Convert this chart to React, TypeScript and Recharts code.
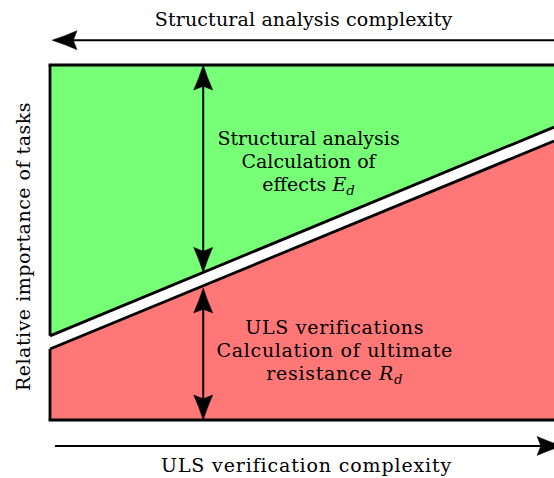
import { ComposedChart, Area, Line, XAxis, YAxis, ReferenceLine, ReferenceDot, Label } from 'recharts';

// x: verification complexity (0-100), y: relative importance of tasks (0-100)
const complexity = [0, 100];
const analysisEdge = [23.7, 82.5]; // lower edge of the green (analysis) band
const ulsEdge = [20, 78.6]; // upper edge of the red (ULS) band

const topTitle = 'Structural analysis complexity';
const bottomTitle = 'ULS verification complexity';
const sideTitle = 'Relative importance of tasks';
const analysisLines = ['Structural analysis', 'Calculation of', 'effects'];
const analysisSymbol = ['E', 'd'];
const ulsLines = ['ULS verifications', 'Calculation of ultimate', 'resistance'];
const ulsSymbol = ['R', 'd'];

const GREEN = '#77ff77';
const RED = '#ff7777';
const FONT = 'DejaVu Serif';
const FS = 19;

const data = complexity.map((x, i) => ({
    x,
    analysis: [analysisEdge[i], 100],
    uls: [0, ulsEdge[i]],
    analysisEdge: analysisEdge[i],
    ulsEdge: ulsEdge[i],
}));

// value of a band edge at a given x (straight line between the two ends)
const edgeAt = (edge: number[], x: number) =>
    edge[0] + ((edge[1] - edge[0]) * (x - complexity[0])) / (complexity[1] - complexity[0]);

const ARROW_X = 30.4;

// latex-like arrow head, tip at (tx,ty), pointing along (dx,dy)
const head = (tx: number, ty: number, dx: number, dy: number) => {
    const L = 25;
    const W = 9.5;
    const nx = -dy;
    const ny = dx;
    const bx = tx - L * dx;
    const by = ty - L * dy;
    const ax = bx + W * nx;
    const ay = by + W * ny;
    const cx = bx - W * nx;
    const cy = by - W * ny;
    const mx = tx - 0.85 * L * dx;
    const my = ty - 0.85 * L * dy;
    const q1x = tx - 0.5 * L * dx + 0.42 * W * nx;
    const q1y = ty - 0.5 * L * dy + 0.42 * W * ny;
    const q2x = tx - 0.5 * L * dx - 0.42 * W * nx;
    const q2y = ty - 0.5 * L * dy - 0.42 * W * ny;
    return `M${tx},${ty} Q${q1x},${q1y} ${ax},${ay} L${mx},${my} L${cx},${cy} Q${q2x},${q2y} ${tx},${ty} Z`;
};

const arrow = (both: boolean) => (props: any) => {
    const { x1, y1, x2, y2 } = props;
    const len = Math.hypot(x2 - x1, y2 - y1) || 1;
    const dx = (x2 - x1) / len;
    const dy = (y2 - y1) / len;
    const sx = both ? x1 + 18 * dx : x1;
    const sy = both ? y1 + 18 * dy : y1;
    return (
        <g>
            <line x1={sx} y1={sy} x2={x2 - 18 * dx} y2={y2 - 18 * dy} stroke="#000" strokeWidth={2} />
            <path d={head(x2, y2, dx, dy)} fill="#000" stroke="#000" strokeWidth={0.5} />
            {both && <path d={head(x1, y1, -dx, -dy)} fill="#000" stroke="#000" strokeWidth={0.5} />}
        </g>
    );
};

const arrowTitle = (value: string, dy: number, ls: number) => (props: any) => {
    const vb = props.viewBox;
    return (
        <text
            x={vb.x + vb.width / 2 - 2}
            y={vb.y + dy}
            textAnchor="middle"
            style={{ fontFamily: FONT, fontSize: FS, letterSpacing: ls }}
            fill="#000"
        >
            {value}
        </text>
    );
};

const sideLabel = (props: any) => {
    const vb = props.viewBox;
    const x = vb.x + 30;
    const y = vb.y + vb.height / 2 + 4;
    return (
        <text
            x={x}
            y={y}
            transform={`rotate(-90, ${x}, ${y})`}
            textAnchor="middle"
            style={{ fontFamily: FONT, fontSize: FS, letterSpacing: 0.5 }}
            fill="#000"
        >
            {sideTitle}
        </text>
    );
};

const textBlock = (lines: string[], symbol: string[], ls: number) => (props: any) => {
    const vb = props.viewBox;
    const cx = vb.x + vb.width / 2;
    const cy = vb.y + vb.height / 2;
    return (
        <g>
            {lines.map((l, i) => (
                <text
                    key={i}
                    x={cx}
                    y={cy + (i - 1) * 23}
                    textAnchor="middle"
                    style={{ fontFamily: FONT, fontSize: FS, letterSpacing: ls }}
                    fill="#000"
                >
                    {l}
                    {i === lines.length - 1 && (
                        <>
                            <tspan fontStyle="italic"> {symbol[0]}</tspan>
                            <tspan fontStyle="italic" fontSize={FS * 0.7} dy={4}>
                                {symbol[1]}
                            </tspan>
                        </>
                    )}
                </text>
            ))}
        </g>
    );
};

const App = () => {
    return (
        <div style={{ position: 'absolute', left: 0, top: 0, width: 554, height: 478, background: '#fff' }}>
            <ComposedChart width={554} height={478} data={data} margin={{ top: 65, right: 0, bottom: 58, left: 0 }}>
                <XAxis dataKey="x" type="number" domain={[0, 100]} hide />
                <YAxis
                    type="number"
                    domain={[0, 100]}
                    width={50}
                    tick={false}
                    tickLine={false}
                    axisLine={false}
                    label={<Label content={sideLabel} />}
                />
                <Area dataKey="analysis" type="linear" fill={GREEN} fillOpacity={1} stroke="none" isAnimationActive={false} />
                <Area dataKey="uls" type="linear" fill={RED} fillOpacity={1} stroke="none" isAnimationActive={false} />
                <Line dataKey="analysisEdge" type="linear" stroke="#000" strokeWidth={2.8} dot={false} activeDot={false} isAnimationActive={false} />
                <Line dataKey="ulsEdge" type="linear" stroke="#000" strokeWidth={2.8} dot={false} activeDot={false} isAnimationActive={false} />

                {/* frame */}
                <ReferenceLine segment={[{ x: 0, y: 100 }, { x: 100, y: 100 }]} stroke="#000" strokeWidth={2.8} strokeLinecap="square" />
                <ReferenceLine segment={[{ x: 0, y: 0 }, { x: 100, y: 0 }]} stroke="#000" strokeWidth={2.8} strokeLinecap="square" />
                <ReferenceLine segment={[{ x: 0, y: 100 }, { x: 0, y: analysisEdge[0] }]} stroke="#000" strokeWidth={2.8} />
                <ReferenceLine segment={[{ x: 0, y: ulsEdge[0] }, { x: 0, y: 0 }]} stroke="#000" strokeWidth={2.8} />

                {/* complexity arrows */}
                <ReferenceLine
                    segment={[{ x: 101, y: 107 }, { x: 0.4, y: 107 }]}
                    ifOverflow="visible"
                    shape={arrow(false)}
                    label={<Label content={arrowTitle(topTitle, -14, 0.15)} />}
                />
                <ReferenceLine
                    segment={[{ x: 1, y: -7.3 }, { x: 101.6, y: -7.3 }]}
                    ifOverflow="visible"
                    shape={arrow(false)}
                    label={<Label content={arrowTitle(bottomTitle, 26, 0.85)} />}
                />

                {/* importance arrows */}
                <ReferenceLine
                    segment={[{ x: ARROW_X, y: 100 }, { x: ARROW_X, y: edgeAt(analysisEdge, ARROW_X) }]}
                    shape={arrow(true)}
                />
                <ReferenceLine
                    segment={[{ x: ARROW_X, y: edgeAt(ulsEdge, ARROW_X) - 0.6 }, { x: ARROW_X, y: 0 }]}
                    shape={arrow(true)}
                />

                <ReferenceDot x={51.3} y={71} r={1} fill="none" stroke="none" label={<Label content={textBlock(analysisLines, analysisSymbol, 0)} />} />
                <ReferenceDot x={56.5} y={17.7} r={1} fill="none" stroke="none" label={<Label content={textBlock(ulsLines, ulsSymbol, 0.7)} />} />
            </ComposedChart>
        </div>
    );
};

export default App;
